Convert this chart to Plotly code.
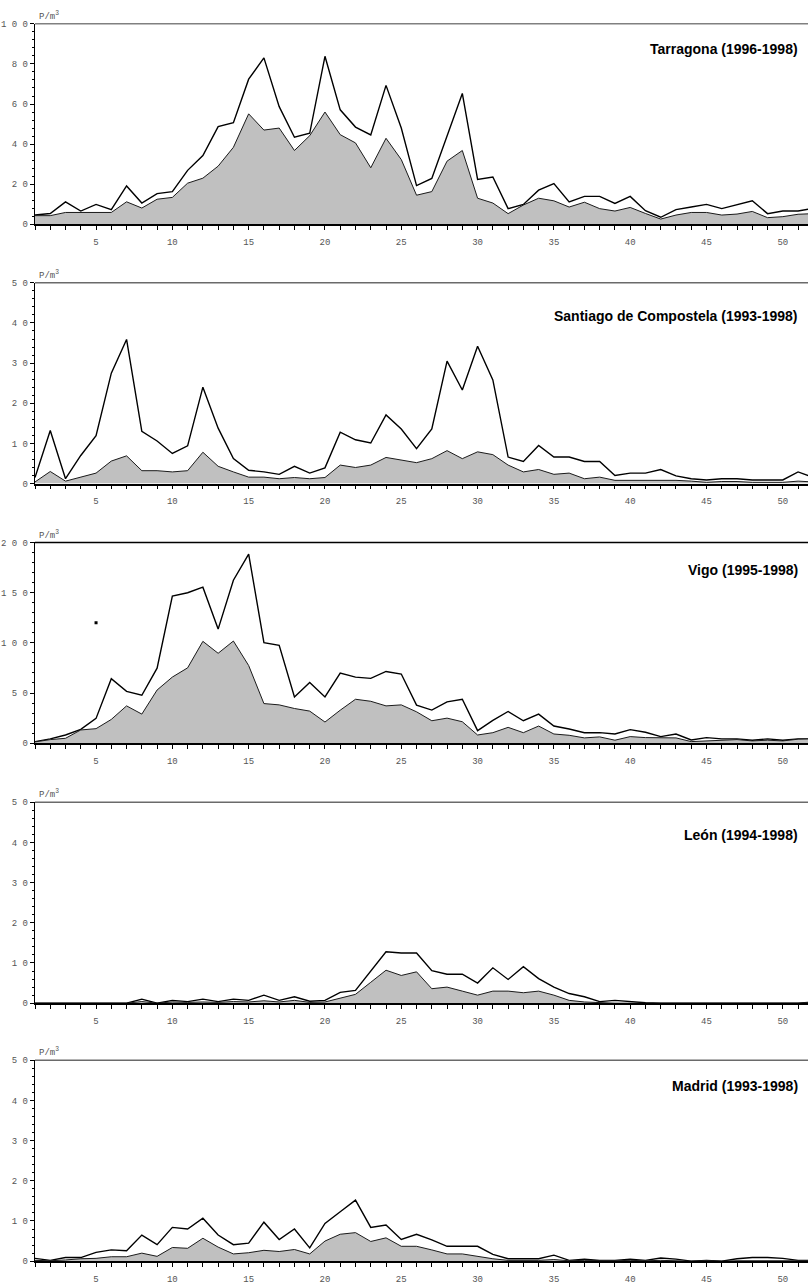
import plotly.graph_objects as go

weeks = list(range(1, 53))

tarragona_max = [4.6, 5.4, 11.2, 6.6, 9.9, 7.3, 19.1, 10.6, 15.3, 16.3,
                 26.9, 34.3, 48.7, 50.7, 72.4, 83.0, 58.7, 43.4, 45.4, 83.8,
                 57.1, 48.5, 44.6, 69.3, 48.0, 19.3, 22.9, 44.0, 65.3, 22.4,
                 23.6, 7.8, 9.9, 17.0, 20.3, 11.2, 13.9, 13.9, 10.4, 13.9,
                 6.8, 3.5, 7.3, 8.6, 9.9, 7.8, 9.7, 11.7, 5.3, 6.6,
                 6.6, 8.0]
tarragona_mean = [4.3, 4.3, 5.9, 5.9, 5.9, 5.9, 11.2, 8.1, 12.5, 13.4,
                  20.5, 23.0, 29.0, 38.4, 55.1, 47.0, 48.0, 36.8, 44.2, 56.0,
                  44.7, 40.6, 28.2, 42.9, 32.3, 14.5, 16.3, 31.5, 36.8, 13.0,
                  10.6, 5.3, 9.6, 13.0, 11.7, 8.6, 11.0, 7.8, 6.6, 8.4,
                  5.4, 2.6, 4.6, 5.9, 5.9, 4.6, 5.1, 6.4, 3.3, 3.8,
                  5.0, 5.3]

santiago_max = [1.5, 13.2, 1.2, 7.0, 11.9, 27.5, 35.9, 13.0, 10.6, 7.5,
                9.4, 24.0, 13.8, 6.2, 3.3, 2.9, 2.3, 4.3, 2.6, 3.9,
                12.8, 10.9, 10.1, 17.1, 13.6, 8.7, 13.6, 30.5, 23.3, 34.2,
                25.8, 6.6, 5.5, 9.5, 6.6, 6.6, 5.5, 5.5, 2.0, 2.6,
                2.6, 3.5, 1.9, 1.2, 0.9, 1.2, 1.2, 0.9, 0.9, 0.9,
                2.9, 1.5]
santiago_mean = [0.4, 3.0, 0.6, 1.6, 2.6, 5.6, 6.9, 3.2, 3.2, 2.9,
                 3.2, 7.8, 4.3, 2.9, 1.6, 1.6, 1.2, 1.5, 1.2, 1.5,
                 4.6, 4.0, 4.6, 6.5, 5.9, 5.2, 6.2, 8.2, 6.2, 7.9,
                 7.2, 4.6, 2.9, 3.5, 2.3, 2.6, 1.2, 1.6, 0.8, 0.8,
                 0.8, 0.8, 0.8, 0.6, 0.3, 0.5, 0.5, 0.3, 0.3, 0.3,
                 0.6, 0.4]

vigo_max = [1.6, 4.3, 8.2, 13.8, 24.7, 64.3, 51.7, 47.8, 74.8, 146.6,
            149.9, 155.5, 113.7, 162.4, 188.5, 100.2, 97.5, 46.1, 60.6, 46.1,
            69.9, 65.9, 64.6, 71.5, 68.9, 37.9, 33.0, 41.2, 43.8, 12.5,
            22.7, 31.6, 22.4, 29.0, 17.1, 14.2, 10.5, 10.5, 9.2, 13.5,
            10.9, 6.6, 9.2, 3.3, 5.6, 4.3, 4.3, 3.0, 4.3, 3.0,
            4.3, 4.3]
vigo_mean = [1.3, 3.6, 4.9, 13.2, 14.5, 23.7, 37.2, 29.0, 53.0, 65.9,
             75.1, 101.5, 89.6, 101.8, 77.4, 39.5, 38.2, 34.6, 32.0, 21.1,
             32.9, 43.8, 41.8, 37.2, 38.2, 31.3, 22.4, 25.0, 21.4, 8.2,
             10.5, 15.8, 10.5, 17.1, 9.2, 7.9, 5.3, 6.3, 3.0, 6.6,
             5.6, 5.6, 5.3, 1.6, 2.3, 3.6, 3.6, 2.3, 3.0, 2.3,
             4.0, 4.3]
vigo_dot_x = [5]
vigo_dot_y = [120]

leon_max = [0, 0, 0, 0, 0, 0, 0, 1.0, 0, 0.7,
            0.4, 1.0, 0.4, 1.0, 0.7, 2.0, 0.7, 1.6, 0.5, 0.7,
            2.7, 3.2, 8.0, 12.8, 12.5, 12.5, 8.1, 7.2, 7.2, 5.0,
            8.8, 5.9, 9.1, 6.1, 4.0, 2.4, 1.6, 0.4, 0.7, 0.4,
            0.1, 0, 0, 0, 0, 0, 0, 0, 0, 0,
            0, 0.3]
leon_mean = [0, 0, 0, 0, 0, 0, 0, 0.4, 0, 0.3,
             0.2, 0.3, 0.2, 0.4, 0.3, 0.6, 0.3, 0.7, 0.2, 0.3,
             1.2, 2.2, 5.2, 8.2, 6.9, 7.8, 3.6, 4.0, 3.0, 2.0,
             3.0, 3.0, 2.6, 3.0, 2.0, 0.7, 0.3, 0.1, 0, 0,
             0, 0, 0, 0, 0, 0, 0, 0, 0, 0,
             0, 0.2]

madrid_max = [0.7, 0.2, 0.9, 0.9, 2.2, 2.8, 2.6, 6.5, 4.1, 8.4,
              8.0, 10.7, 6.5, 4.1, 4.5, 9.7, 5.4, 8.0, 3.3, 9.4,
              12.3, 15.2, 8.4, 9.0, 5.4, 6.7, 5.3, 3.7, 3.7, 3.7,
              1.7, 0.6, 0.6, 0.6, 1.5, 0.2, 0.5, 0.2, 0.2, 0.5,
              0.2, 0.8, 0.5, 0, 0.2, 0, 0.6, 0.9, 0.9, 0.7,
              0.2, 0.2]
madrid_mean = [0.2, 0.1, 0.3, 0.6, 0.7, 1.1, 1.1, 2.0, 1.2, 3.4,
               3.2, 5.7, 3.5, 1.8, 2.1, 2.7, 2.4, 2.9, 1.8, 5.0,
               6.7, 7.1, 4.9, 5.8, 3.7, 3.7, 2.8, 1.8, 1.8, 1.2,
               0.6, 0.2, 0.2, 0.2, 0.4, 0.1, 0.2, 0.1, 0.1, 0.2,
               0.1, 0.2, 0.1, 0, 0.1, 0, 0.1, 0.1, 0.1, 0.1,
               0.1, 0.1]

titles = ["Tarragona (1996-1998)", "Santiago de Compostela (1993-1998)",
          "Vigo (1995-1998)", "León (1994-1998)", "Madrid (1993-1998)"]
y_max = [100, 50, 200, 50, 50]
y_major = [20, 10, 50, 10, 10]
unit_label = "P/m<sup>3</sup>"

series_max = [tarragona_max, santiago_max, vigo_max, leon_max, madrid_max]
series_mean = [tarragona_mean, santiago_mean, vigo_mean, leon_mean, madrid_mean]

# layout (pixels)
W, H = 808, 1288
L = 35
tops = [20, 281, 542.7, 804.5, 1064.5]
bottoms = [222, 483.3, 745, 1007, 1267]
title_ys = [47, 316, 572, 839, 1092]
border_colors = ["#808080", "#6a6a6a", "#000000", "#6a6a6a", "#6a6a6a"]

mono = "Liberation Mono, Courier New, monospace"
sans = "Liberation Sans, Arial, sans-serif"

def px_x(p):
    return (p - L) / (W - L)

def px_y(p):
    return 1 - p / H

fig = go.Figure()
shapes = []
annotations = []
layout = {}

for i in range(5):
    xa = "x" if i == 0 else f"x{i+1}"
    ya = "y" if i == 0 else f"y{i+1}"
    fig.add_trace(go.Scatter(x=weeks, y=series_max[i], mode="lines",
                             line=dict(color="black", width=1.4),
                             xaxis=xa, yaxis=ya, showlegend=False, hoverinfo="skip"))
    fig.add_trace(go.Scatter(x=weeks, y=series_mean[i], mode="lines",
                             fill="tozeroy", fillcolor="#c0c0c0",
                             line=dict(color="#1a1a1a", width=1),
                             xaxis=xa, yaxis=ya, showlegend=False, hoverinfo="skip"))
    dom = [px_y(bottoms[i]), px_y(tops[i])]
    vals = list(range(0, y_max[i] + 1, y_major[i]))
    texts = [" ".join(str(v)) for v in vals]
    layout["xaxis" if i == 0 else f"xaxis{i+1}"] = dict(
        domain=[0, 1], range=[1, 51.65], anchor=ya,
        showline=True, linecolor="black", linewidth=1.6,
        ticks="outside", ticklen=4, tickcolor="black", tickwidth=1,
        tickmode="linear", tick0=0, dtick=5,
        minor=dict(ticks="outside", ticklen=4, tickcolor="black", tickwidth=1,
                   tickmode="linear", tick0=0, dtick=1),
        tickfont=dict(family=mono, size=9, color="#555555"),
        ticklabelstandoff=4,
        showgrid=False, zeroline=False, fixedrange=True)
    layout["yaxis" if i == 0 else f"yaxis{i+1}"] = dict(
        domain=dom, range=[0, y_max[i]], anchor=xa,
        showline=True, linecolor="black", linewidth=1.4,
        ticks="outside", ticklen=4, tickcolor="black", tickwidth=1,
        tickmode="array", tickvals=vals, ticktext=texts,
        minor=dict(ticks="outside", ticklen=2, tickcolor="black", tickwidth=1,
                   tickmode="linear", tick0=0, dtick=y_major[i] / 5),
        tickfont=dict(family=mono, size=9, color="#555555"),
        showgrid=False, zeroline=False, fixedrange=True)
    shapes.append(dict(type="line", xref="paper", yref="paper",
                       x0=0, x1=1, y0=dom[1], y1=dom[1],
                       line=dict(color=border_colors[i], width=1.5)))
    annotations.append(dict(text=unit_label, xref="paper", yref="paper",
                            x=px_x(37), y=px_y(tops[i] - 8), xanchor="left", yanchor="middle",
                            showarrow=False, font=dict(family=mono, size=9, color="#555555")))
    annotations.append(dict(text="<b>" + titles[i] + "</b>", xref="paper", yref="paper",
                            x=px_x(800), y=px_y(title_ys[i] - 2), xanchor="right", yanchor="middle",
                            showarrow=False, font=dict(family=sans, size=14, color="black")))

fig.add_trace(go.Scatter(x=vigo_dot_x, y=vigo_dot_y, mode="markers",
                         marker=dict(symbol="square", size=3, color="black"),
                         xaxis="x3", yaxis="y3", showlegend=False, hoverinfo="skip"))

fig.update_layout(width=W, height=H, margin=dict(l=L, r=0, t=0, b=0),
                  paper_bgcolor="white", plot_bgcolor="white",
                  shapes=shapes, annotations=annotations, **layout)

fig.write_html("out.html")
